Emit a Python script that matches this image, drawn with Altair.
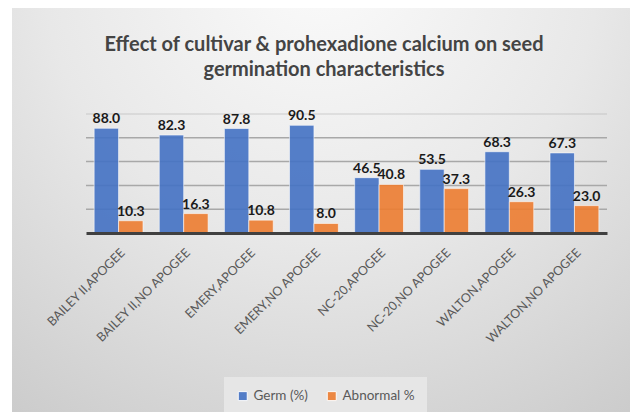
import altair as alt
import pandas as pd

categories = ["BAILEY II,APOGEE", "BAILEY II,NO APOGEE", "EMERY,APOGEE", "EMERY,NO APOGEE",
              "NC-20,APOGEE", "NC-20,NO APOGEE", "WALTON,APOGEE", "WALTON,NO APOGEE"]
germ = [88.0, 82.3, 87.8, 90.5, 46.5, 53.5, 68.3, 67.3]
abnormal = [10.3, 16.3, 10.8, 8.0, 40.8, 37.3, 26.3, 23.0]
series = ["Germ (%)", "Abnormal %"]
colors = ["#4472C4", "#ED7D31"]
grid_ticks = [20, 40, 60, 80, 100]
title_lines = ["Effect of cultivar & prohexadione calcium on seed", "germination characteristics"]

rows = []
for c, g, a in zip(categories, germ, abnormal):
    rows.append({"cat": c, "series": series[0], "value": g})
    rows.append({"cat": c, "series": series[1], "value": a})
df = pd.DataFrame(rows)
grid_df = pd.DataFrame({"v": grid_ticks})
title_df = pd.DataFrame({"t": ["\n".join(title_lines)]})
bg_df = pd.DataFrame({"k": [0]})

W, H = 521, 119

x_enc = alt.X("cat:N", sort=categories, title=None,
              scale=alt.Scale(paddingInner=0.25, paddingOuter=0.125),
              axis=alt.Axis(labelAngle=-45, labelAlign="right", labelBaseline="top",
                            labelPadding=13, labelFont="Lato", labelFontSize=12.5,
                            labelColor="#595959", labelLimit=300, labelOverlap=False,
                            ticks=False, domainColor="#404040", domainWidth=3,
                            grid=False, zindex=1))
y_scale = alt.Scale(domain=[0, 100], nice=False)

bg = alt.Chart(bg_df).mark_rect(
    fill=alt.RadialGradient(
        gradient="radial",
        stops=[alt.GradientStop(color="#fbfbfb", offset=0),
               alt.GradientStop(color="#e8e8e8", offset=0.45),
               alt.GradientStop(color="#c4c4c4", offset=1)],
        x1=0.5, y1=0.1, x2=0.5, y2=0.1, r1=0, r2=1.0),
).encode(x=alt.value(-74), x2=alt.value(544), y=alt.value(-106), y2=alt.value(298))

grid = alt.Chart(grid_df).mark_rule(color="#a8a8a8", strokeWidth=1.5).encode(
    y=alt.Y("v:Q", scale=y_scale, axis=None),
    strokeOpacity=alt.condition(alt.datum.v == 100, alt.value(0.35), alt.value(1.0)),
)

bars = alt.Chart(df).mark_bar(opacity=0.9, stroke="white", strokeOpacity=0.6, strokeWidth=1).encode(
    x=x_enc,
    xOffset=alt.XOffset("series:N", sort=series, scale=alt.Scale(paddingInner=0, paddingOuter=0)),
    y=alt.Y("value:Q", scale=y_scale, axis=None),
    color=alt.Color("series:N", sort=series,
                    scale=alt.Scale(domain=series, range=colors),
                    legend=alt.Legend(title=None, orient="none", legendX=138, legendY=263,
                                      direction="horizontal", symbolType="square",
                                      symbolSize=81, symbolStrokeColor="white",
                                      symbolStrokeWidth=1,
                                      labelFont="Lato", labelFontSize=13.5,
                                      labelColor="#595959", labelOffset=4,
                                      columnPadding=17, padding=12,
                                      fillColor="#e6e6e6")),
)

labels = alt.Chart(df).mark_text(baseline="alphabetic", dy=-5, font="Lato", fontSize=14,
                                 fontWeight="bold", color="#1a1a1a").encode(
    x=alt.X("cat:N", sort=categories),
    xOffset=alt.XOffset("series:N", sort=series),
    y=alt.Y("value:Q", scale=y_scale),
    text=alt.Text("value:Q", format=".1f"),
)

title = alt.Chart(title_df).mark_text(font="Lato", fontSize=20, fontWeight="bold",
                                      color="#444444", align="center", baseline="alphabetic",
                                      lineBreak="\n", lineHeight=25).encode(
    x=alt.value(238), y=alt.value(-63), text="t:N"
)

chart = alt.layer(bg, grid, bars, labels, title).properties(
    width=W, height=H,
    padding={"left": 78, "top": 106, "right": 23, "bottom": 179},
    autosize=alt.AutoSizeParams(type="none"),
    background="white",
).configure_view(stroke=None)

chart.save("out.html", embed_options={"renderer": "svg", "actions": False})
